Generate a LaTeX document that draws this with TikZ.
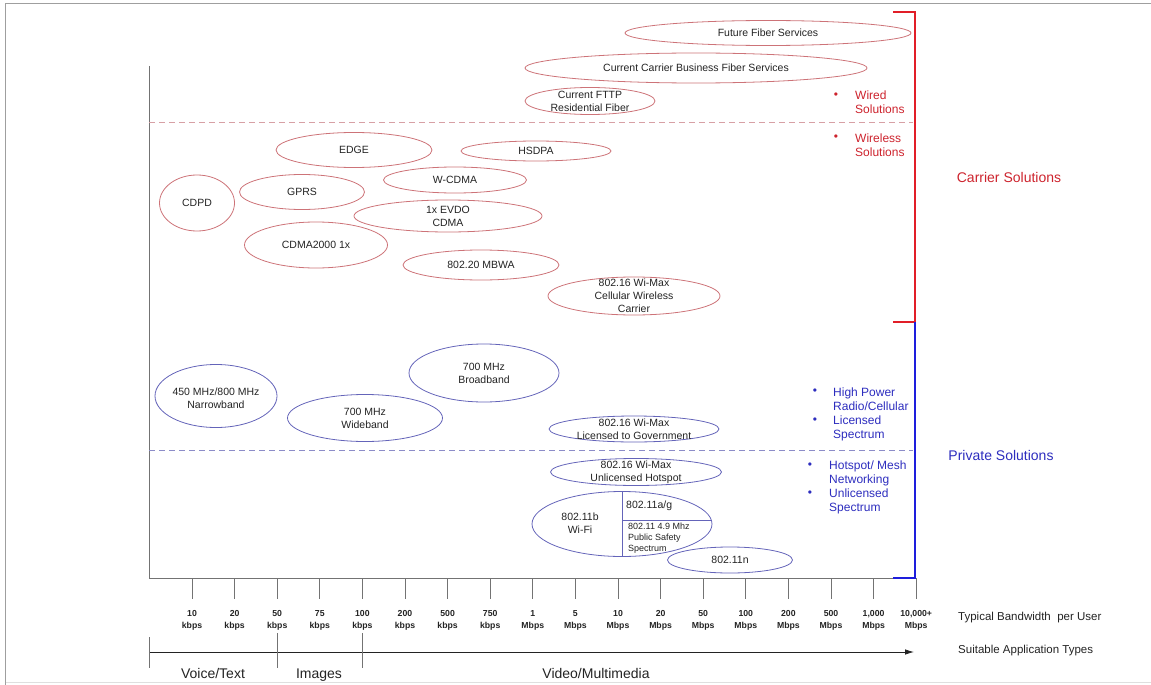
\documentclass[tikz,border=0pt]{standalone}
\usepackage{fontspec}
\setmainfont{Liberation Sans}
\usetikzlibrary{shapes.geometric,arrows.meta}
\definecolor{carrier}{RGB}{225,30,40}
\definecolor{private}{RGB}{30,30,220}
\definecolor{ctext}{RGB}{205,35,45}
\definecolor{ptext}{RGB}{45,45,190}
\definecolor{redring}{RGB}{205,115,120}
\definecolor{bluering}{RGB}{100,100,185}
\definecolor{axisgray}{RGB}{115,115,115}
\definecolor{inktext}{RGB}{35,35,35}
\tikzset{
  ring/.style={ellipse, inner sep=0pt, line width=0.8pt},
  wired/.style={ring, draw=redring},
  radio/.style={ring, draw=bluering},
  ttext/.style={inner sep=0pt, align=center, text=inktext, font=\fontsize{10.5}{12.8}\selectfont},
  smalltext/.style={inner sep=0pt, align=left, text=inktext, font=\fontsize{9}{11}\selectfont},
  rate/.style={inner sep=0pt, align=center, text=inktext, font=\bfseries\fontsize{8.7}{12}\selectfont},
  axisline/.style={draw=axisgray, line width=0.8pt},
  apptype/.style={inner sep=0pt, anchor=base, text=inktext, font=\fontsize{14}{16}\selectfont},
  sidetext/.style={inner sep=0pt, anchor=west, text=inktext, font=\fontsize{11.5}{14}\selectfont},
  bul/.style={inner sep=0pt, font=\fontsize{12}{12}\selectfont},
  note/.style={inner sep=0pt, anchor=west, align=left, font=\fontsize{12}{14}\selectfont},
  group/.style={inner sep=0pt, font=\fontsize{14}{16}\selectfont},
  bracket/.style={line width=2.6pt},
}
\begin{document}
\begin{tikzpicture}[x=1pt,y=-1pt]
\useasboundingbox (0,0) rectangle (1151,685);

% page frame
\draw[gray!75, line width=0.9pt] (5.5,685) -- (5.5,3.5) -- (1151,3.5);
\draw[gray!25, line width=0.8pt] (5.5,682.5) -- (1151,682.5);

% axes
\coordinate (ytop) at (149,66);
\coordinate (origin) at (149,578);
\coordinate (xend) at (916,578);
\draw[axisline] (ytop) -- (origin) -- (xend);

% band separators
\coordinate (wiredL) at (149,122);
\coordinate (wiredR) at (913,122);
\coordinate (privL) at (149,450);
\coordinate (privR) at (913,450);
\draw[draw={rgb,255:red,215;green,160;blue,165}, line width=0.8pt, dash pattern=on 6pt off 4pt] (wiredL) -- (wiredR);
\draw[draw={rgb,255:red,140;green,140;blue,200}, line width=0.8pt, dash pattern=on 6pt off 4pt] (privL) -- (privR);

% bandwidth ticks and labels
\foreach \n/\u [count=\i from 0] in {10/kbps,20/kbps,50/kbps,75/kbps,100/kbps,200/kbps,500/kbps,750/kbps,1/Mbps,5/Mbps,10/Mbps,20/Mbps,50/Mbps,100/Mbps,200/Mbps,500/Mbps,1{,}000/Mbps,10{,}000+/Mbps}{
  \coordinate (tk\i) at ({192+42.6*\i},578);
  \coordinate (tb\i) at ({192+42.6*\i},599);
  \draw[axisline] (tk\i) -- (tb\i);
  \node[rate] (lb\i) at ({192+42.6*\i},620) {\n\\\u};
}

% application type scale
\coordinate (appS) at (149,652);
\coordinate (appE) at (914,652);
\draw[axisline, draw=inktext, -{Latex[length=9pt,width=5.5pt]}] (appS) -- (appE);
\coordinate (sepA1) at (149,637); \coordinate (sepA2) at (149,668);
\coordinate (sepB1) at (277,633); \coordinate (sepB2) at (277,668);
\coordinate (sepC1) at (362,633); \coordinate (sepC2) at (362,668);
\draw[axisline] (sepA1) -- (sepA2);
\draw[axisline] (sepB1) -- (sepB2);
\draw[axisline] (sepC1) -- (sepC2);
\node[apptype] (voice) at (213,678) {Voice/Text};
\node[apptype] (images) at (319,678) {Images};
\node[apptype] (video) at (596,678) {Video/Multimedia};

\node[sidetext] (bwtitle) at (958,618) {Typical Bandwidth\ \ per User};
\node[sidetext] (apptitle) at (958,651) {Suitable Application Types};

% carrier / private brackets
\coordinate (cTop) at (893,12);
\coordinate (cBot) at (915,322);
\coordinate (cBotL) at (893,322);
\coordinate (pBot) at (915,578);
\coordinate (pBotL) at (893,578);
\draw[bracket, carrier] (cTop) -| (cBot) -- (cBotL);
\draw[bracket, private] (cBot) |- (pBotL);
\node[group, text=ctext] (carrierlbl) at (1009,177) {Carrier Solutions};
\node[group, text=ptext] (privatelbl) at (1001,455) {Private Solutions};

% wired / wireless notes
\node[bul, text=ctext] (b1) at (836,96) {•};
\node[note, text=ctext] (n1) at (855,102) {Wired\\Solutions};
\node[bul, text=ctext] (b2) at (836,138) {•};
\node[note, text=ctext] (n2) at (855,145) {Wireless\\Solutions};
\node[bul, text=ptext] (b3) at (815,392) {•};
\node[note, text=ptext] (n3) at (833,399.5) {High Power\\Radio/Cellular};
\node[bul, text=ptext] (b4) at (815,421) {•};
\node[note, text=ptext] (n4) at (833,428) {Licensed\\Spectrum};
\node[bul, text=ptext] (b5) at (810,466) {•};
\node[note, text=ptext] (n5) at (829,473) {Hotspot/ Mesh\\Networking};
\node[bul, text=ptext] (b6) at (810,494) {•};
\node[note, text=ptext] (n6) at (829,501) {Unlicensed\\Spectrum};

% carrier technologies
\node[wired, minimum width=286pt, minimum height=25pt] (fiberfut) at (768,33) {};
\node[ttext] (fiberfut-t) at (fiberfut) {Future Fiber Services};
\node[wired, minimum width=342pt, minimum height=30pt] (fiberbiz) at (696,68) {};
\node[ttext] (fiberbiz-t) at (fiberbiz) {Current Carrier Business Fiber Services};
\node[wired, minimum width=130pt, minimum height=27pt] (fttp) at (590,101) {};
\node[ttext] (fttp-t) at (fttp) {Current FTTP\\Residential Fiber};
\node[wired, minimum width=156pt, minimum height=35pt] (edge) at (354,150) {};
\node[ttext] (edge-t) at (edge) {EDGE};
\node[wired, minimum width=150pt, minimum height=20pt] (hsdpa) at (536,151) {};
\node[ttext] (hsdpa-t) at (hsdpa) {HSDPA};
\node[wired, minimum width=143pt, minimum height=26pt] (wcdma) at (455,180) {};
\node[ttext] (wcdma-t) at (wcdma) {W-CDMA};
\node[wired, minimum width=125pt, minimum height=35pt] (gprs) at (302,192) {};
\node[ttext] (gprs-t) at (gprs) {GPRS};
\node[wired, minimum width=75pt, minimum height=56pt] (cdpd) at (197,203) {};
\node[ttext] (cdpd-t) at (cdpd) {CDPD};
\node[wired, minimum width=188pt, minimum height=32pt] (evdo) at (448,216) {};
\node[ttext] (evdo-t) at (evdo) {1x EVDO\\CDMA};
\node[wired, minimum width=143pt, minimum height=46pt] (cdma2k) at (316,245) {};
\node[ttext] (cdma2k-t) at (cdma2k) {CDMA2000 1x};
\node[wired, minimum width=156pt, minimum height=30pt] (mbwa) at (481,265) {};
\node[ttext] (mbwa-t) at (mbwa) {802.20 MBWA};
\node[wired, minimum width=172pt, minimum height=38pt] (wmaxcell) at (634,296) {};
\node[ttext] (wmaxcell-t) at (wmaxcell) {802.16 Wi-Max\\Cellular Wireless\\Carrier};

% private technologies
\node[radio, minimum width=122pt, minimum height=63pt] (nb450) at (216,396) {};
\node[ttext] (nb450-t) at (216,398) {450 MHz/800 MHz\\Narrowband};
\node[radio, minimum width=155pt, minimum height=47pt] (wb700) at (365,418) {};
\node[ttext] (wb700-t) at (wb700) {700 MHz\\Wideband};
\node[radio, minimum width=150pt, minimum height=58pt] (bb700) at (484,373) {};
\node[ttext] (bb700-t) at (bb700) {700 MHz\\Broadband};
\node[radio, minimum width=170pt, minimum height=26pt] (wmaxgov) at (634,429) {};
\node[ttext] (wmaxgov-t) at (wmaxgov) {802.16 Wi-Max\\Licensed to Government};
\node[radio, minimum width=171pt, minimum height=27pt] (wmaxhot) at (636,472) {};
\node[ttext] (wmaxhot-t) at (wmaxhot) {802.16 Wi-Max\\Unlicensed Hotspot};

% Wi-Fi family split into sectors
\node[radio, minimum width=180pt, minimum height=65pt] (wifi) at (622,524) {};
\coordinate (wifiMid) at (622,520);
\coordinate (wifiRim) at (711.3,520);
\draw[draw=bluering, line width=0.8pt] (wifi.north) -- (wifi.south);
\draw[draw=bluering, line width=0.8pt] (wifiMid) -- (wifiRim);
\node[ttext] (wifib) at (580,523) {802.11b\\Wi-Fi};
\node[ttext, anchor=west] (wifiag) at (626,506) {802.11a/g};
\node[smalltext, anchor=west] (wifips) at (628,538) {802.11 4.9 Mhz\\Public Safety\\Spectrum};
\node[radio, minimum width=125pt, minimum height=26pt] (n11) at (730,560) {};
\node[ttext] (n11-t) at (n11) {802.11n};
\end{tikzpicture}
\end{document}
